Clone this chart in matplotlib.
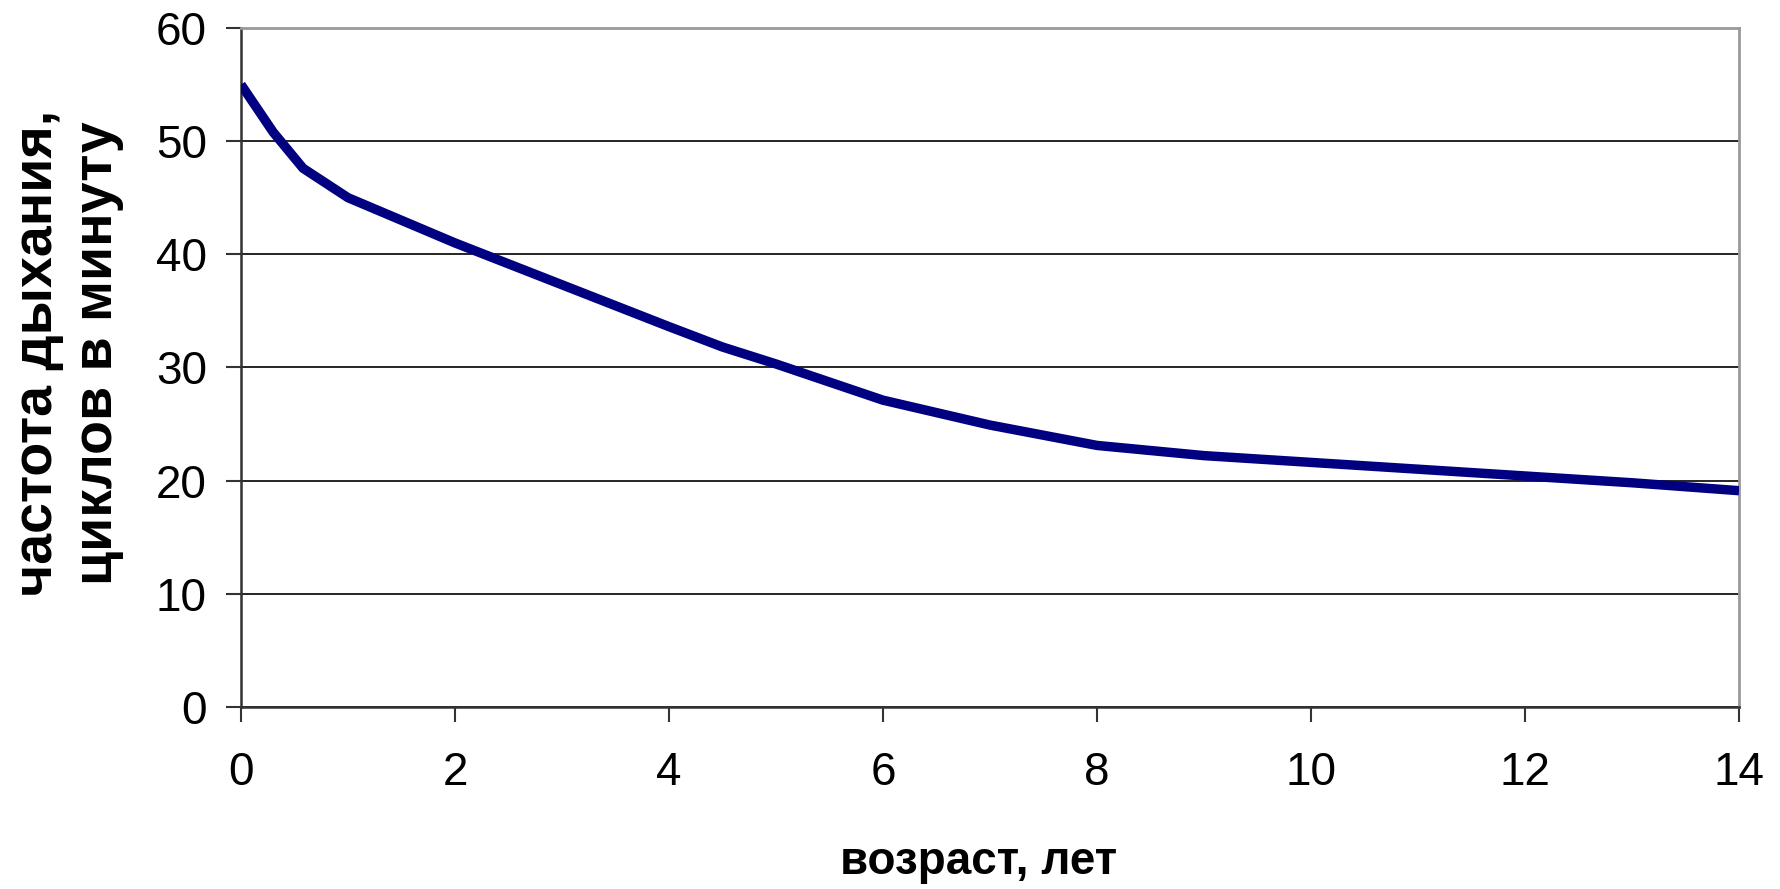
import matplotlib
matplotlib.use("Agg")
import matplotlib.pyplot as plt

# возраст (лет) и частота дыхания (циклов в минуту)
age = [0, 0.3, 0.58, 1, 2, 3, 4, 4.5, 5, 6, 7, 8, 9, 10, 11, 12, 13, 14]
rate = [55, 50.8, 47.6, 45, 41, 37.3, 33.6, 31.8, 30.3, 27.1, 24.9, 23.1, 22.2, 21.6, 21.0, 20.4, 19.8, 19.1]

x_ticks = [0, 2, 4, 6, 8, 10, 12, 14]
y_ticks = [0, 10, 20, 30, 40, 50, 60]

plt.rcParams['font.family'] = ['Liberation Sans', 'DejaVu Sans']

fig = plt.figure(figsize=(17.8, 8.89), dpi=100)
ax = fig.add_axes([0.1354, 0.205, 0.8416, 0.7635])

ax.plot(age, rate, color='#000080', linewidth=6.8, solid_joinstyle='round',
        solid_capstyle='butt', zorder=3)

ax.set_xlim(0, 14)
ax.set_ylim(0, 60)
ax.set_xticks(x_ticks)
ax.set_yticks(y_ticks)
ax.grid(True, axis='y', color='black', linewidth=1.2)
ax.set_axisbelow(True)

ax.tick_params(axis='both', direction='out', length=10.5, width=1.5, color='#333333',
               labelsize=33)
ax.tick_params(axis='x', pad=21)
ax.tick_params(axis='y', pad=14)

ax.spines['left'].set_color('#333333')
ax.spines['left'].set_linewidth(1.8)
ax.spines['bottom'].set_color('#333333')
ax.spines['bottom'].set_linewidth(1.8)
ax.spines['top'].set_color('#999999')
ax.spines['top'].set_linewidth(2)
ax.spines['right'].set_color('#999999')
ax.spines['right'].set_linewidth(2)

fig.text(0.55, 0.03, 'возраст, лет', ha='center', va='center',
         fontsize=33, fontweight='bold')
fig.text(0.038, 0.603, 'частота дыхания,\nциклов в минуту', ha='center', va='center',
         rotation=90, fontsize=40, fontweight='bold', linespacing=1.2)

fig.savefig('out.png', dpi=100)
